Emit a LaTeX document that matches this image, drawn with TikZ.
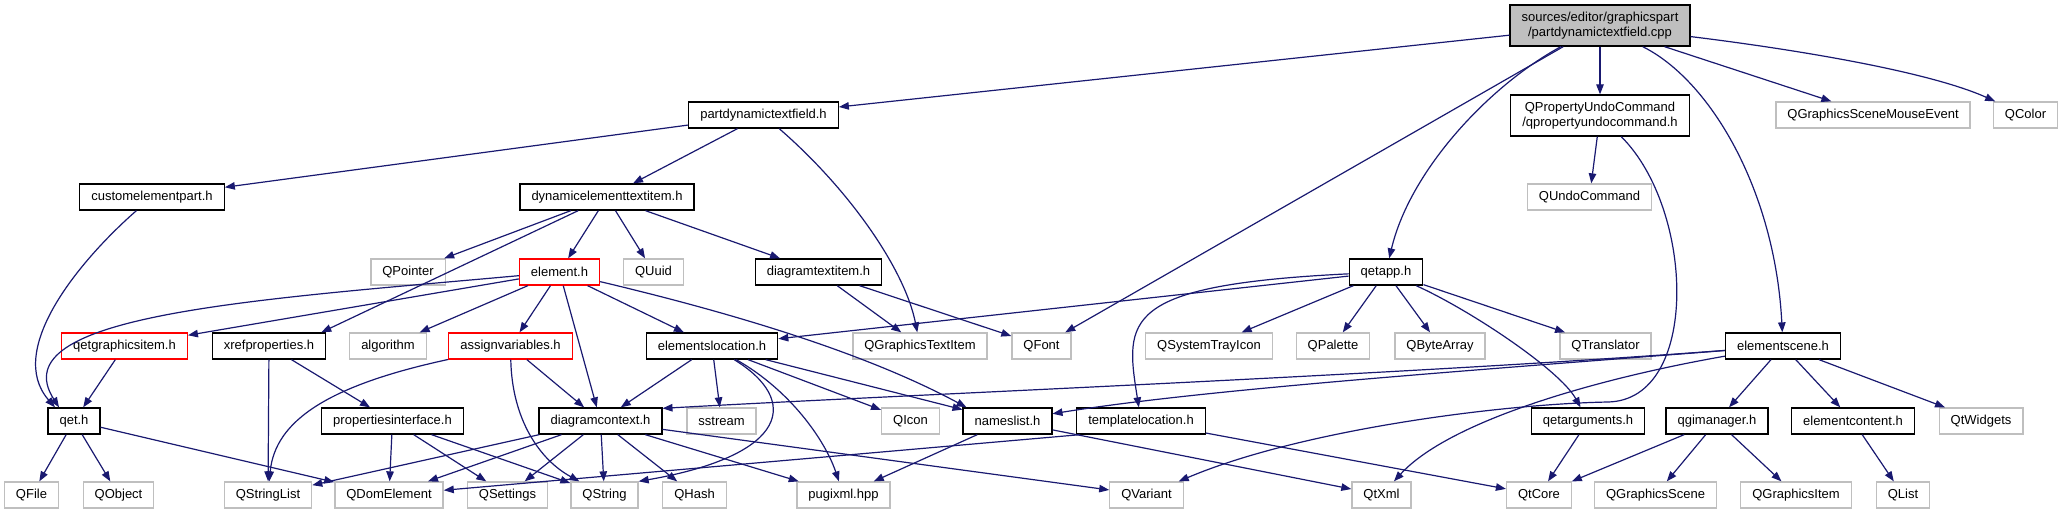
\documentclass[tikz,border=0pt]{standalone}
\usepackage{fontspec}
\setmainfont{Liberation Sans}
\usetikzlibrary{arrows.meta}
\definecolor{edgeblue}{HTML}{191970}
\definecolor{extgray}{HTML}{BFBFBF}
\tikzset{
  hdrbox/.style={draw=black, line width=1.3pt, fill=white, inner xsep=11.5pt, inner ysep=0pt, minimum height=26pt, font=\fontsize{13}{15}\selectfont},
  extbox/.style={hdrbox, draw=extgray},
  trunbox/.style={hdrbox, draw=red},
  rootbox/.style={hdrbox, fill=extgray, minimum height=41pt, align=center},
  dep/.style={draw=edgeblue, line width=1.2pt, -{Triangle[length=10pt,width=7.5pt]}},
}

\begin{document}
\begin{tikzpicture}[x=1pt,y=-1pt]
\useasboundingbox (0,0) rectangle (2062,515);
\node[rootbox] (root) at (1600,25.5) {sources/editor/graphicspart\\/partdynamictextfield.cpp};
\node[hdrbox] (pdtf) at (763.5,115) {partdynamictextfield.h};
\node[hdrbox, minimum height=41pt, align=center] (qpuc) at (1600,115.5) {QPropertyUndoCommand\\/qpropertyundocommand.h};
\node[extbox] (qgsme) at (1873,115) {QGraphicsSceneMouseEvent};
\node[extbox] (qcolor) at (2025.5,115) {QColor};
\node[hdrbox] (cep) at (152,197) {customelementpart.h};
\node[hdrbox] (deti) at (607,197) {dynamicelementtextitem.h};
\node[extbox] (qundo) at (1589.5,197) {QUndoCommand};
\node[extbox] (qpointer) at (408,272) {QPointer};
\node[trunbox] (elem) at (559.5,272) {element.h};
\node[extbox] (quuid) at (653.5,272) {QUuid};
\node[hdrbox] (dti) at (818.5,272) {diagramtextitem.h};
\node[hdrbox] (qetapp) at (1386,272) {qetapp.h};
\node[trunbox] (qgi) at (124.5,346) {qetgraphicsitem.h};
\node[hdrbox] (xref) at (269,346) {xrefproperties.h};
\node[extbox] (algo) at (388,346) {algorithm};
\node[trunbox] (assign) at (510.5,346) {assignvariables.h};
\node[hdrbox] (eloc) at (712,346) {elementslocation.h};
\node[extbox] (qgti) at (920,346) {QGraphicsTextItem};
\node[extbox] (qfont) at (1041.5,346) {QFont};
\node[extbox] (qsti) at (1209,346) {QSystemTrayIcon};
\node[extbox] (qpalette) at (1333,346) {QPalette};
\node[extbox] (qbytearray) at (1440,346) {QByteArray};
\node[extbox] (qtranslator) at (1605.5,346) {QTranslator};
\node[hdrbox] (escene) at (1783,346) {elementscene.h};
\node[hdrbox] (qeth) at (74,421) {qet.h};
\node[hdrbox] (propif) at (392.5,421) {propertiesinterface.h};
\node[hdrbox] (dctx) at (600.5,421) {diagramcontext.h};
\node[extbox] (sstream) at (721.5,421) {sstream};
\node[extbox] (qicon) at (910.5,421) {QIcon};
\node[hdrbox] (nameslist) at (1007.5,421) {nameslist.h};
\node[hdrbox] (tloc) at (1141,421) {templatelocation.h};
\node[hdrbox] (qetargs) at (1588,421) {qetarguments.h};
\node[hdrbox] (qgim) at (1717,421) {qgimanager.h};
\node[hdrbox] (econtent) at (1853,421) {elementcontent.h};
\node[extbox] (qtwidgets) at (1981,421) {QtWidgets};
\node[extbox] (qfile) at (31.5,495) {QFile};
\node[extbox] (qobject) at (118.5,495) {QObject};
\node[extbox] (qstringlist) at (268,495) {QStringList};
\node[extbox] (qdomelement) at (389,495) {QDomElement};
\node[extbox] (qsettings) at (507.5,495) {QSettings};
\node[extbox] (qstring) at (604.5,495) {QString};
\node[extbox] (qhash) at (694.5,495) {QHash};
\node[extbox] (pugixml) at (843.5,495) {pugixml.hpp};
\node[extbox] (qvariant) at (1146.5,495) {QVariant};
\node[extbox] (qtxml) at (1381.5,495) {QtXml};
\node[extbox] (qtcore) at (1539,495) {QtCore};
\node[extbox] (qgscene) at (1655.5,495) {QGraphicsScene};
\node[extbox] (qgitem) at (1796,495) {QGraphicsItem};
\node[extbox] (qlist) at (1903,495) {QList};
\draw[dep] (root) -- (pdtf);
\draw[dep] (root) -- (qfont);
\draw[dep] (root) .. controls (1490,85) and (1410,170) .. (qetapp);
\draw[dep] (root) -- (qpuc);
\draw[dep] (root) .. controls (1710,80) and (1775,190) .. (escene);
\draw[dep] (root) -- (qgsme);
\draw[dep] (root) .. controls (1800,50) and (1930,72) .. (qcolor);
\draw[dep] (qpuc) -- (qundo);
\draw[dep] (qpuc) .. controls (1695,210) and (1700,400) .. (1608,402) .. controls (1500,404) and (1300,430) .. (qvariant);
\draw[dep] (pdtf) -- (cep);
\draw[dep] (pdtf) -- (deti);
\draw[dep] (pdtf) .. controls (850,190) and (905,270) .. (qgti);
\draw[dep] (cep) .. controls (80,260) and (5,350) .. ([xshift=-19pt]qeth.north);
\draw[dep] (deti) -- (qpointer);
\draw[dep] (deti) -- (elem);
\draw[dep] (deti) -- (quuid);
\draw[dep] (deti) -- (dti);
\draw[dep] (deti) -- ([xshift=-5pt]xref.north east);
\draw[dep] (elem) .. controls (250,300) and (0,315) .. ([xshift=-15pt]qeth.north);
\draw[dep] (elem) -- (qgi);
\draw[dep] (elem) -- (algo);
\draw[dep] (elem) -- (assign);
\draw[dep] (elem) -- (dctx);
\draw[dep] (elem) -- (eloc);
\draw[dep] (elem) .. controls (720,310) and (860,350) .. ([xshift=4pt]nameslist.north west);
\draw[dep] (dti) -- (qgti);
\draw[dep] (dti) -- (qfont);
\draw[dep] (qetapp) -- (eloc);
\draw[dep] (qetapp) .. controls (1120,285) and (1125,320) .. (tloc);
\draw[dep] (qetapp) -- (qsti);
\draw[dep] (qetapp) -- (qpalette);
\draw[dep] (qetapp) -- (qbytearray);
\draw[dep] (qetapp) -- (qtranslator);
\draw[dep] (qetapp) .. controls (1470,310) and (1560,370) .. (qetargs);
\draw[dep] (escene) .. controls (1400,375) and (900,395) .. ([yshift=-1pt]dctx.north east);
\draw[dep] (escene) .. controls (1450,372) and (1200,390) .. (nameslist);
\draw[dep] (escene) .. controls (1600,378) and (1450,420) .. (qtxml);
\draw[dep] (escene) -- (qgim);
\draw[dep] (escene) -- (econtent);
\draw[dep] (escene) -- (qtwidgets);
\draw[dep] (eloc) -- (dctx);
\draw[dep] (eloc) -- (sstream);
\draw[dep] (eloc) .. controls (800,400) and (790,455) .. (qstring.north east);
\draw[dep] (eloc) .. controls (790,390) and (825,440) .. (pugixml);
\draw[dep] (eloc) -- (qicon);
\draw[dep] (eloc) -- (nameslist);
\draw[dep] (xref) -- (qstringlist);
\draw[dep] (xref) -- (propif);
\draw[dep] (qgi) -- (qeth);
\draw[dep] (assign) .. controls (330,385) and (275,420) .. (qstringlist);
\draw[dep] (assign) -- (dctx);
\draw[dep] (assign) .. controls (512,420) and (540,460) .. (qstring);
\draw[dep] (propif) -- (qdomelement);
\draw[dep] (propif) -- (qsettings);
\draw[dep] (propif) -- (qstring);
\draw[dep] (qeth) -- (qfile);
\draw[dep] (qeth) -- (qobject);
\draw[dep] (qeth) -- (qdomelement);
\draw[dep] (dctx) -- (qstringlist);
\draw[dep] (dctx) -- (qdomelement);
\draw[dep] (dctx) -- (qsettings);
\draw[dep] (dctx) -- (qstring);
\draw[dep] (dctx) -- (qhash);
\draw[dep] (dctx) -- (pugixml);
\draw[dep] (dctx) -- (qvariant);
\draw[dep] (nameslist) -- (pugixml);
\draw[dep] (nameslist) -- (qtxml);
\draw[dep] ([xshift=4pt]tloc.south west) -- (qdomelement);
\draw[dep] (tloc) -- (qtcore);
\draw[dep] (qetargs) -- (qtcore);
\draw[dep] (qgim) -- (qtcore);
\draw[dep] (qgim) -- (qgscene);
\draw[dep] (qgim) -- (qgitem);
\draw[dep] (econtent) -- (qlist);
\end{tikzpicture}
\end{document}
